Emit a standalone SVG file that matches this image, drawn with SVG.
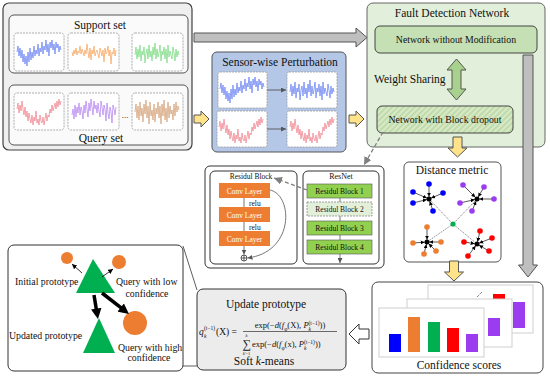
<svg xmlns="http://www.w3.org/2000/svg" xmlns:xlink="http://www.w3.org/1999/xlink" width="550" height="377" viewBox="0 0 550 377">
<style>
text{font-family:"Liberation Serif","Times New Roman",serif;fill:#111}
.box{stroke:#404040;stroke-width:1.2}
.sig{fill:#fff;stroke:#9a9a9a;stroke-width:0.8;stroke-dasharray:2,1}
.wave{fill:none;stroke-width:0.8;stroke-linejoin:round}
.t12{font-size:11.5px}
.t10{font-size:9.8px}
.t8{font-size:7.5px}
.yel{fill:#ffe38a;stroke:#555;stroke-width:1}
.gry{fill:#bfbfbf;stroke:#555;stroke-width:1}
.conv{fill:#ed7d31}
.rb{fill:#92d050;stroke:#555;stroke-width:0.6}
.ctext{font-size:7.5px;fill:#fff;text-anchor:middle}
.rtext{font-size:7.5px;text-anchor:middle}
.fm{font-size:8.5px}
.sb{font-size:5.5px}
.card{fill:#fff;stroke:#cfcfcf;stroke-width:1}
.pt{stroke:none}
.dl{stroke:#111;stroke-width:0.7;marker-end:url(#mBlk)}
</style>
<defs>
<marker id="mDark" viewBox="0 0 10 10" refX="10" refY="5" markerWidth="5" markerHeight="5" markerUnits="userSpaceOnUse" orient="auto"><path d="M0,0 L10,5 L0,10 z" fill="#555"/></marker>
<marker id="mGray" viewBox="0 0 10 10" refX="10" refY="5" markerWidth="8" markerHeight="8" markerUnits="userSpaceOnUse" orient="auto"><path d="M0,0 L10,5 L0,10 z" fill="#7f7f7f"/></marker>
<marker id="mBlk" viewBox="0 0 10 10" refX="16" refY="5" markerWidth="4" markerHeight="4" markerUnits="userSpaceOnUse" orient="auto"><path d="M0,0 L10,5 L0,10 z" fill="#000"/></marker>
<marker id="mThin" viewBox="0 0 10 10" refX="10" refY="5" markerWidth="5" markerHeight="5" markerUnits="userSpaceOnUse" orient="auto"><path d="M0,0 L10,5 L0,10 z" fill="#000"/></marker>
<marker id="mThick" viewBox="0 0 10 10" refX="1" refY="5" markerWidth="3" markerHeight="3" markerUnits="strokeWidth" orient="auto"><path d="M0,0 L10,5 L0,10 z" fill="#000"/></marker>
<pattern id="hatch" width="4" height="4" patternUnits="userSpaceOnUse" patternTransform="rotate(45)"><rect width="4" height="4" fill="#d7e9c8"/><line x1="1" y1="0" x2="1" y2="4" stroke="#b6d59c" stroke-width="1.4"/></pattern>
<path id="wA" class="wave" d="M0,14 L1,8 2,18 3,10 4,20 5,12 6,24 7,16 8,26 9,18 10,28 11,14 12,24 13,10 14,22 15,14 16,20 17,8 18,18 19,12 20,16 21,6 22,18 23,10 24,14 25,4 26,16 27,8 28,12 29,2 30,14 31,6 32,18 33,4 34,10 35,2 36,12 37,6 38,16 39,4 40,10 41,6 42,14 43,8 44,12"/>
<path id="wB" class="wave" d="M0,12 L1,16 2,10 3,14 4,8 5,15 6,11 7,13 8,6 9,14 10,9 11,12 12,16 13,10 14,14 15,4 16,12 17,18 18,8 19,20 20,10 21,14 22,6 23,16 24,12 25,10 26,14 27,18 28,8 29,12 30,16 31,10 32,22 33,8 34,14 35,12 36,6 37,16 38,10 39,24 40,12 41,14 42,8 43,16 44,10"/>
<path id="wC" class="wave" d="M0,16 L1,8 2,20 3,10 4,18 5,6 6,22 7,12 8,16 9,8 10,24 11,14 12,10 13,20 14,6 15,18 16,12 17,22 18,8 19,16 20,4 21,20 22,10 23,18 24,14 25,6 26,22 27,12 28,16 29,8 30,20 31,10 32,24 33,6 34,18 35,12 36,16 37,20 38,8 39,14 40,22 41,10 42,18 43,12 44,16"/>
<path id="wD" class="wave" d="M0,12 L1,6 2,16 3,8 4,14 5,4 6,12 7,18 8,10 9,20 10,14 11,24 12,16 13,22 14,26 15,18 16,28 17,20 18,24 19,14 20,26 21,22 22,28 23,18 24,24 25,26 26,20 27,28 28,22 29,16 30,24 31,18 32,20 33,12 34,16 35,8 36,14 37,10 38,6 39,12 40,4 41,10 42,2 43,8 44,4"/>
<path id="wE" class="wave" d="M0,18 L1,12 2,22 3,8 4,20 5,10 6,16 7,6 8,18 9,10 10,14 11,22 12,8 13,16 14,4 15,12 16,20 17,6 18,14 19,2 20,10 21,18 22,4 23,12 24,8 25,16 26,6 27,14 28,20 29,4 30,10 31,18 32,8 33,12 34,24 35,6 36,16 37,22 38,10 39,14 40,26 41,8 42,12 43,18 44,10"/>
<path id="wF" class="wave" d="M0,14 L1,6 2,20 3,8 4,22 5,4 6,18 7,10 8,24 9,6 10,16 11,2 12,20 13,8 14,26 15,4 16,18 17,12 18,22 19,6 20,24 21,10 22,16 23,4 24,20 25,8 26,26 27,6 28,18 29,2 30,22 31,10 32,24 33,4 34,20 35,8 36,16 37,12 38,22 39,6 40,18 41,4 42,14 43,8 44,12"/>
<polygon id="yR" points="0,-4 7,-4 7,-8 15,0 7,8 7,4 0,4"/>
<polygon id="yD" points="-4.5,0 4.5,0 4.5,11 9.5,11 0,20 -9.5,11 -4.5,11"/>
</defs>

<g id="input-sets">
<rect class="box" x="3" y="3" width="189" height="147" rx="6" fill="#efefef"/>
<g id="support-set">
<rect x="9" y="15" width="179" height="58" rx="5" fill="#fafafa" stroke="#555" stroke-width="1"/>
<text class="t12" x="100" y="29" text-anchor="middle">Support set</text>
<rect class="sig" x="14" y="33" width="50" height="38" rx="3"/>
<rect class="sig" x="68" y="33" width="51" height="38" rx="3"/>
<rect class="sig" x="132" y="33" width="51" height="38" rx="3"/>
<use href="#wA" x="17" y="38" stroke="#6f86f2"/>
<use href="#wB" x="72" y="40" stroke="#f7aa66"/>
<use href="#wC" x="135" y="39" stroke="#7fdc86"/>
</g>
<g id="query-set">
<rect x="9" y="85" width="179" height="60" rx="5" fill="#fafafa" stroke="#555" stroke-width="1"/>
<rect class="sig" x="14" y="93" width="50" height="37" rx="3"/>
<rect class="sig" x="68" y="93" width="51" height="37" rx="3"/>
<rect class="sig" x="132" y="93" width="51" height="37" rx="3"/>
<use href="#wD" x="17" y="97" stroke="#f08a94"/>
<use href="#wE" x="72" y="97" stroke="#b98af0"/>
<use href="#wF" x="135" y="98" stroke="#d6a47c"/>
<text x="125" y="118" font-size="9" text-anchor="middle">...</text>
<text class="t12" x="101" y="142" text-anchor="middle">Query set</text>
</g>
</g>

<g id="perturbation">
<rect x="212" y="52" width="134" height="100" rx="5" fill="#b4c7e7" stroke="#555" stroke-width="1"/>
<text class="t12" x="280" y="66" text-anchor="middle">Sensor-wise Perturbation</text>
<rect class="sig" x="218" y="72" width="49" height="36" rx="2"/>
<rect class="sig" x="287" y="72" width="50" height="36" rx="2"/>
<rect class="sig" x="217" y="111" width="50" height="36" rx="2"/>
<rect class="sig" x="287" y="111" width="50" height="36" rx="2"/>
<use href="#wA" x="220" y="75" stroke="#6f86f2"/>
<use href="#wC" x="290" y="76" stroke="#6f86f2"/>
<use href="#wD" x="219" y="115" stroke="#f08a94"/>
<use href="#wD" x="290" y="115" stroke="#f08a94" transform="translate(0,0)"/>
<line x1="267" y1="90" x2="286" y2="90" stroke="#555" stroke-width="0.9" marker-end="url(#mDark)"/>
<line x1="267" y1="129" x2="286" y2="129" stroke="#555" stroke-width="0.9" marker-end="url(#mDark)"/>
</g>

<g id="fault-detection-network">
<rect x="367" y="3" width="178" height="144" rx="6" fill="#e2efda" stroke="#666" stroke-width="1"/>
<text class="t12" x="452" y="17" text-anchor="middle">Fault Detection Network</text>
<g id="net-plain">
<rect x="375" y="26" width="162" height="27" rx="5" fill="#c5e0b4" stroke="#444" stroke-width="1"/>
<text class="t10" x="456" y="43" text-anchor="middle">Network without Modification</text>
</g>
<polygon points="456.5,59 466,70 461,70 461,89 466,89 456.5,100 447,89 452,89 452,70 447,70" fill="#a9d18e" stroke="#555" stroke-width="1"/>
<text class="t12" x="374" y="83">Weight Sharing</text>
<g id="net-dropout">
<rect x="377" y="106" width="136" height="27" rx="5" fill="url(#hatch)" stroke="#444" stroke-width="1"/>
<text class="t10" x="445" y="123" text-anchor="middle">Network with Block dropout</text>
</g>
</g>

<g id="resnet-detail">
<rect x="205" y="166" width="179" height="102" rx="5" fill="#fff" stroke="#333" stroke-width="1"/>
<g id="residual-block">
<rect x="210" y="171" width="87" height="93" rx="5" fill="#fff" stroke="#333" stroke-width="1"/>
<text class="rtext" x="251" y="179">Residul Block</text>
<line x1="244" y1="198" x2="244" y2="207" stroke="#777" stroke-width="1"/>
<line x1="244" y1="222" x2="244" y2="231" stroke="#777" stroke-width="1"/>
<rect class="conv" x="219" y="183" width="51" height="15"/>
<rect class="conv" x="219" y="207" width="51" height="15"/>
<rect class="conv" x="219" y="231" width="51" height="15"/>
<text class="ctext" x="244.5" y="193.5">Conv Layer</text>
<text class="ctext" x="244.5" y="217.5">Conv Layer</text>
<text class="ctext" x="244.5" y="241.5">Conv Layer</text>
<text class="t8" x="249" y="205.5">relu</text>
<text class="t8" x="249" y="229.5">relu</text>
<line x1="244" y1="246" x2="244" y2="254.5" stroke="#777" stroke-width="1" marker-end="url(#mDark)"/>
<path d="M270,190 C293,195 295,252 247.5,258" fill="none" stroke="#777" stroke-width="1" marker-end="url(#mDark)"/>
<circle cx="244" cy="258" r="3" fill="#fff" stroke="#333" stroke-width="0.8"/>
<path d="M241,258 H247 M244,255 V261" stroke="#333" stroke-width="0.8"/>
</g>
<g id="resnet">
<rect x="303" y="171" width="76" height="93" rx="5" fill="#fff" stroke="#333" stroke-width="1"/>
<text x="341" y="179" font-size="8" text-anchor="middle">ResNet</text>
<line x1="340" y1="198" x2="340" y2="240" stroke="#777" stroke-width="1"/>
<rect class="rb" x="307" y="184" width="65" height="14"/>
<rect x="307" y="202" width="65" height="14" fill="#e2f0d9" stroke="#888" stroke-width="0.8" stroke-dasharray="2,1"/>
<rect class="rb" x="307" y="221" width="65" height="14"/>
<rect class="rb" x="307" y="240" width="65" height="14"/>
<text class="rtext" x="339.5" y="193.5">Residul Block 1</text>
<text class="rtext" x="339.5" y="211.5" fill="#444">Residul Block 2</text>
<text class="rtext" x="339.5" y="230.5">Residul Block 3</text>
<text class="rtext" x="339.5" y="249.5">Residul Block 4</text>
<line x1="340" y1="254" x2="340" y2="263" stroke="#777" stroke-width="1" marker-end="url(#mDark)"/>
</g>
</g>

<g id="distance-metric">
<rect x="404" y="162" width="97" height="100" rx="5" fill="#fff" stroke="#555" stroke-width="1"/>
<text class="t12" x="452" y="174" text-anchor="middle">Distance metric</text>
<g stroke="#333" stroke-width="0.6" stroke-dasharray="1.2,1">
<line x1="453" y1="224" x2="429" y2="199"/>
<line x1="453" y1="224" x2="477" y2="199"/>
<line x1="453" y1="224" x2="427" y2="242"/>
<line x1="453" y1="224" x2="477" y2="244"/>
</g>
<g>
<line class="dl" x1="429" y1="184" x2="429" y2="199"/>
<line class="dl" x1="413" y1="192" x2="429" y2="199"/>
<line class="dl" x1="413" y1="203" x2="429" y2="199"/>
<line class="dl" x1="433" y1="211" x2="429" y2="199"/>
<line class="dl" x1="443" y1="193" x2="429" y2="199"/>
<line class="dl" x1="463" y1="185" x2="477" y2="199"/>
<line class="dl" x1="484" y1="187" x2="477" y2="199"/>
<line class="dl" x1="494" y1="199" x2="477" y2="199"/>
<line class="dl" x1="472" y1="211" x2="477" y2="199"/>
<line class="dl" x1="460" y1="203" x2="477" y2="199"/>
<line class="dl" x1="427" y1="227" x2="427" y2="242"/>
<line class="dl" x1="413" y1="243" x2="427" y2="242"/>
<line class="dl" x1="441" y1="242" x2="427" y2="242"/>
<line class="dl" x1="436" y1="251" x2="427" y2="242"/>
<line class="dl" x1="424" y1="254" x2="427" y2="242"/>
<line class="dl" x1="480" y1="231" x2="477" y2="244"/>
<line class="dl" x1="492" y1="238" x2="477" y2="244"/>
<line class="dl" x1="489" y1="251" x2="477" y2="244"/>
<line class="dl" x1="468" y1="256" x2="477" y2="244"/>
<line class="dl" x1="464" y1="242" x2="477" y2="244"/>
</g>
<g fill="#0000ff">
<circle cx="429" cy="184" r="2.8"/><circle cx="413" cy="192" r="2.8"/><circle cx="413" cy="203" r="2.8"/><circle cx="433" cy="211" r="2.8"/><circle cx="443" cy="193" r="2.8"/>
</g>
<g fill="#9b3cf0">
<circle cx="463" cy="185" r="2.8"/><circle cx="484" cy="187" r="2.8"/><circle cx="494" cy="199" r="2.8"/><circle cx="472" cy="211" r="2.8"/><circle cx="460" cy="203" r="2.8"/>
</g>
<g fill="#ed7d31">
<circle cx="427" cy="227" r="2.8"/><circle cx="413" cy="243" r="2.8"/><circle cx="441" cy="242" r="2.8"/><circle cx="436" cy="251" r="2.8"/><circle cx="424" cy="254" r="2.8"/>
</g>
<g fill="#ff0000">
<circle cx="480" cy="231" r="2.8"/><circle cx="492" cy="238" r="2.8"/><circle cx="489" cy="251" r="2.8"/><circle cx="468" cy="256" r="2.8"/><circle cx="464" cy="242" r="2.8"/>
</g>
<g fill="#000">
<circle cx="429" cy="199" r="2.5"/><circle cx="477" cy="199" r="2.5"/><circle cx="427" cy="242" r="2.5"/><circle cx="477" cy="244" r="2.5"/>
</g>
<circle cx="453" cy="224" r="2.6" fill="#00b050"/>
</g>

<g id="confidence-scores">
<rect x="372" y="282" width="171" height="91" rx="6" fill="#fff" stroke="#444" stroke-width="1"/>
<rect class="card" x="428" y="285" width="105" height="48"/>
<path d="M477,297 L482,292" stroke="#333" stroke-width="0.9" stroke-dasharray="1,1"/>
<rect x="493" y="294" width="12" height="20" fill="#ff0000"/>
<rect x="513" y="302" width="12" height="26" fill="#9b3cf0"/>
<rect class="card" x="407" y="299" width="105" height="48"/>
<rect x="488" y="318" width="12" height="18" fill="#9b3cf0"/>
<rect class="card" x="379" y="308" width="105" height="49"/>
<rect x="389" y="334" width="12" height="18" fill="#0000ff"/>
<rect x="408" y="317" width="12" height="35" fill="#ed7d31"/>
<rect x="428" y="322" width="12" height="30" fill="#00b050"/>
<rect x="447" y="328" width="12" height="24" fill="#ff0000"/>
<rect x="466" y="334" width="12" height="18" fill="#9b3cf0"/>
<text class="t12" x="459" y="369" text-anchor="middle">Confidence scores</text>
</g>

<g id="update-prototype">
<rect x="197" y="289" width="149" height="81" rx="6" fill="#ececec" stroke="#333" stroke-width="1"/>
<text class="t12" x="266" y="308" text-anchor="middle">Update prototype</text>
<text x="199" y="335" font-size="9.5" font-style="italic">q</text>
<text x="204" y="330" class="sb">(t−1)</text>
<text x="204" y="337.5" class="sb" font-style="italic">k</text>
<text x="216" y="335" font-size="9.5">(X) =</text>
<text class="fm" x="290" y="328" text-anchor="middle">exp(−<tspan font-style="italic">d</tspan>(<tspan font-style="italic">f</tspan><tspan class="sb" baseline-shift="sub">φ</tspan>(X), <tspan font-style="italic">P</tspan><tspan class="sb" baseline-shift="sub" font-style="italic">k</tspan><tspan class="sb" baseline-shift="super" dx="-2.5">(t−1)</tspan>))</text>
<line x1="243" y1="331.5" x2="337" y2="331.5" stroke="#111" stroke-width="0.6"/>
<text x="246.5" y="348" font-size="12" text-anchor="middle">∑</text>
<text x="246.5" y="337" font-size="4.5" text-anchor="middle" font-style="italic">k</text>
<text x="246.5" y="355" font-size="4.5" text-anchor="middle"><tspan font-style="italic">k</tspan>'=1</text>
<text class="fm" x="252" y="347">exp(−<tspan font-style="italic">d</tspan>(<tspan font-style="italic">f</tspan><tspan class="sb" baseline-shift="sub">φ</tspan>(x), <tspan font-style="italic">P</tspan><tspan class="sb" baseline-shift="sub" font-style="italic">k</tspan><tspan class="sb" baseline-shift="super" dx="-2.5">(t−1)</tspan>))</text>
<text class="t12" x="264" y="365" text-anchor="middle">Soft <tspan font-style="italic">k</tspan>-means</text>
</g>

<g id="prototype-illustration">
<rect x="8" y="245" width="175" height="126" rx="6" fill="#fff" stroke="#333" stroke-width="1"/>
<circle cx="67" cy="258" r="6" fill="#ed7d31"/>
<circle cx="119" cy="262" r="7" fill="#ed7d31"/>
<polygon points="76,293 115,293 93,259" fill="#00b050"/>
<polygon points="83,353 115,353 99,318" fill="#00b050"/>
<circle cx="135" cy="323" r="12" fill="#ed7d31"/>
<line x1="82" y1="273" x2="72" y2="264" stroke="#000" stroke-width="0.8" marker-end="url(#mThin)"/>
<line x1="102" y1="277" x2="113" y2="269" stroke="#000" stroke-width="0.8" marker-end="url(#mThin)"/>
<line x1="94" y1="295" x2="96.4" y2="309.7" stroke="#000" stroke-width="3.5" marker-end="url(#mThick)"/>
<line x1="102" y1="293" x2="121.5" y2="308.2" stroke="#000" stroke-width="3.5" marker-end="url(#mThick)"/>
<text class="t10" x="15" y="285">Initial prototype</text>
<text class="t10" x="116" y="285">Query with low</text>
<text class="t10" x="147" y="297" text-anchor="middle">confidence</text>
<text class="t10" x="9" y="339">Updated prototype</text>
<text class="t10" x="118" y="351">Query with high</text>
<text class="t10" x="149" y="361" text-anchor="middle">confidence</text>
</g>

<g id="connectors">
<polygon class="gry" points="194,33 356,33 356,28 367,37.5 356,47 356,42 194,42"/>
<use href="#yR" x="194" y="119" class="yel"/>
<use href="#yR" x="349" y="119" class="yel"/>
<use href="#yD" x="457.5" y="137" class="yel"/>
<use href="#yD" x="454" y="261" class="yel"/>
<polygon class="gry" points="523,55 533,55 533,265 537.5,265 528,277 518.5,265 523,265"/>
<polygon points="349,334 359,324 359,329 369,329 369,339 359,339 359,344" fill="#fff" stroke="#333" stroke-width="1"/>
<line x1="383" y1="132" x2="364" y2="165" stroke="#7f7f7f" stroke-width="1.3" stroke-dasharray="4,2.5" marker-end="url(#mGray)"/>
<line x1="307" y1="190" x2="274" y2="178" stroke="#7f7f7f" stroke-width="1.3" stroke-dasharray="4,2.5" marker-end="url(#mGray)"/>
<line x1="183" y1="246" x2="197" y2="290" stroke="#333" stroke-width="0.8"/>
<line x1="183" y1="366" x2="197" y2="366" stroke="#333" stroke-width="0.8"/>
</g>
</svg>
